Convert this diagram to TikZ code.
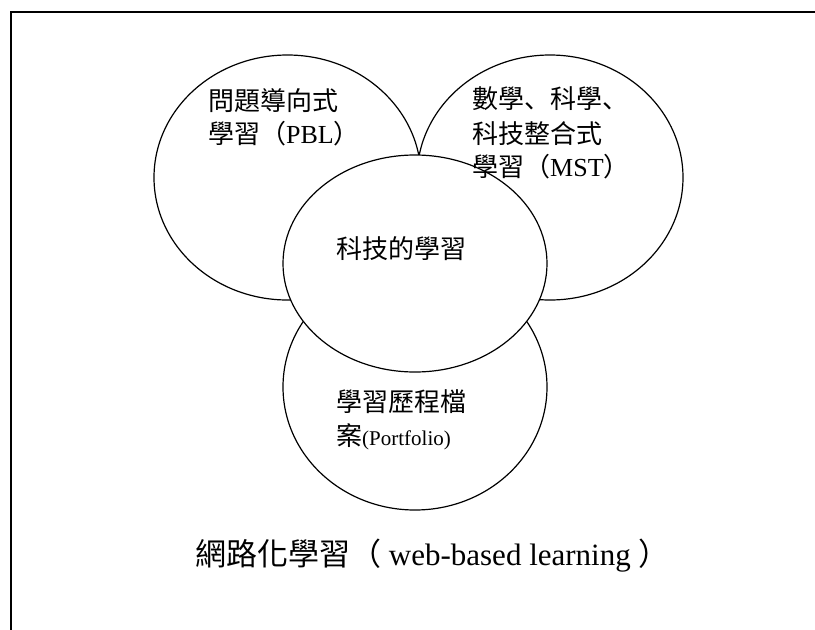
\documentclass[tikz,border=0pt]{standalone}
\usepackage{fontspec}
\setmainfont{Liberation Serif}
\newfontfamily\cjk{Noto Sans CJK TC}
\newfontfamily\cjkjp{Noto Sans CJK JP}
\usetikzlibrary{shapes.geometric}
\begin{document}
\begin{tikzpicture}[x=1pt,y=-1pt,
  bubble/.style={draw, ellipse, fill=white, line width=1.2pt, inner sep=0pt},
  txt/.style={anchor=base west, inner sep=0pt, font=\cjk\fontsize{26}{26}\selectfont}]
\useasboundingbox (0,0) rectangle (815,630);
\clip (0,0) rectangle (815,630);
\draw[line width=2pt] (10.7,700) -- (10.7,12) -- (900,12);
\node[bubble, minimum width=267pt, minimum height=245pt] (pbl) at (287.5,177.5) {};
\node[bubble, minimum width=266pt, minimum height=245pt] (mst) at (550,177.5) {};
\node[bubble, minimum width=264pt, minimum height=246pt] (port) at (415,387) {};
\node[bubble, minimum width=264pt, minimum height=217pt] (tech) at (415,263.5) {};
\node[txt] (pbla) at (208,110) {問題導向式};
\node[txt] (pblb) at (208,143) {學習（{\rmfamily PBL}）};
\node[txt] (msta) at (472,108) {數學{\cjkjp 、}科學{\cjkjp 、}};
\node[txt] (mstb) at (472,143) {科技整合式};
\node[txt] (mstc) at (472,176) {學習（{\rmfamily MST}）};
\node[txt] (techt) at (336,258) {科技的學習};
\node[txt] (porta) at (336,411) {學習歷程檔};
\node[txt] (portb) at (336,445) {案{\rmfamily\fontsize{21}{21}\selectfont (Portfolio)}};
\node[txt, font=\cjk\fontsize{31}{31}\selectfont] (web) at (195,565) {網路化學習（{\rmfamily\ web-based learning\ }）};
\end{tikzpicture}
\end{document}
